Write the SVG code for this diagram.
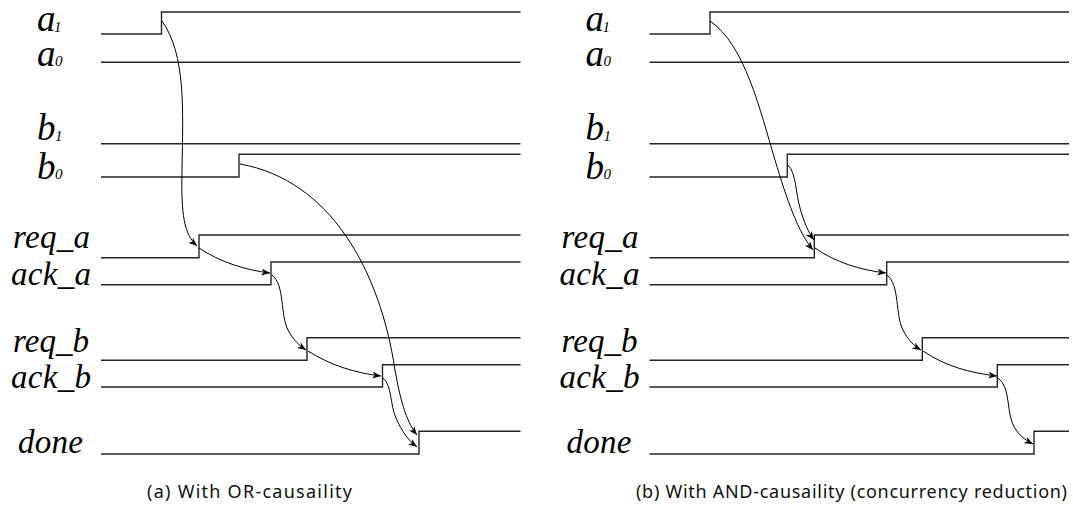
<svg xmlns="http://www.w3.org/2000/svg" width="1073" height="509" viewBox="0 0 1073 509">
  <style>
    .wave { fill: none; stroke: #262626; stroke-width: 1.4; }
    .arc { fill: none; stroke: #000; stroke-width: 1; marker-end: url(#stealth); }
    .big { font-family: "Liberation Serif", "DejaVu Serif", serif; font-style: italic; font-size: 37px; fill: #000; }
    .sub { font-family: "Liberation Serif", "DejaVu Serif", serif; font-style: italic; font-size: 15px; fill: #000; }
    .name { font-family: "Liberation Serif", "DejaVu Serif", serif; font-style: italic; font-size: 33px; fill: #000; }
    .cap { font-family: "Noto Sans", "Open Sans", sans-serif; font-size: 18px; fill: #111; }
  </style>
  <defs>
    <marker id="stealth" viewBox="0 0 10 8" refX="10" refY="4" markerWidth="9" markerHeight="7" markerUnits="userSpaceOnUse" orient="auto">
      <path d="M0,0 L10,4 L0,8 L3,4 z" fill="#000"/>
    </marker>
  </defs>

  <rect width="1073" height="509" fill="#fff"/>

  <!-- (a) OR-causality -->
  <g id="panel-a">
    <g id="a-a1"><text class="big" x="37" y="31">a</text><text class="sub" x="54" y="32">1</text>
      <path class="wave" d="M101,34 H161.5 V12 H520.5"/></g>
    <g id="a-a0"><text class="big" x="37" y="66">a</text><text class="sub" x="55" y="66">0</text>
      <path class="wave" d="M101,62.3 H520.5"/></g>
    <g id="a-b1"><text class="big" x="37" y="140">b</text><text class="sub" x="55" y="141">1</text>
      <path class="wave" d="M101,143.7 H520.5"/></g>
    <g id="a-b0"><text class="big" x="37" y="179">b</text><text class="sub" x="55" y="179">0</text>
      <path class="wave" d="M101,177 H239 V154.3 H520.5"/></g>
    <g id="a-req_a"><text class="name" x="13" y="248" textLength="77">req_a</text>
      <path class="wave" d="M101,257.7 H199 V235 H520.5"/></g>
    <g id="a-ack_a"><text class="name" x="11" y="285" textLength="80">ack_a</text>
      <path class="wave" d="M101,284.7 H271 V262 H520.5"/></g>
    <g id="a-req_b"><text class="name" x="13" y="352" textLength="76">req_b</text>
      <path class="wave" d="M101,360.3 H307 V337.7 H520.5"/></g>
    <g id="a-ack_b"><text class="name" x="11" y="388" textLength="80">ack_b</text>
      <path class="wave" d="M101,387 H382.5 V364.7 H520.5"/></g>
    <g id="a-done"><text class="name" x="18" y="453" textLength="65">done</text>
      <path class="wave" d="M101,454 H419 V431.3 H520.5"/></g>
    <g id="a-connectors">
      <path class="arc" d="M162,21 C186,55 183,110 182,170 C181,215 184,234 197,246"/>
      <path class="arc" d="M199,248 C220,262 245,270 270,273"/>
      <path class="arc" d="M272,275 C285,285 280,315 288,330 C293,340 300,346 306,350"/>
      <path class="arc" d="M308,351 C330,365 355,373 381,376"/>
      <path class="arc" d="M383,378 C392,385 390,405 396,418 C402,432 409,441 417,447"/>
      <path class="arc" d="M240,164 C330,180 380,270 395,370 C401,405 408,424 417,435"/>
    </g>
    <text class="cap" x="147" y="498" textLength="205">(a) With OR-causaility</text>
  </g>

  <!-- (b) AND-causality -->
  <g id="panel-b">
    <g id="b-a1"><text class="big" x="585.5" y="31">a</text><text class="sub" x="602.5" y="32">1</text>
      <path class="wave" d="M649.5,34 H710 V12 H1069"/></g>
    <g id="b-a0"><text class="big" x="585.5" y="66">a</text><text class="sub" x="603.5" y="66">0</text>
      <path class="wave" d="M649.5,62.3 H1069"/></g>
    <g id="b-b1"><text class="big" x="585.5" y="140">b</text><text class="sub" x="603.5" y="141">1</text>
      <path class="wave" d="M649.5,143.7 H1069"/></g>
    <g id="b-b0"><text class="big" x="585.5" y="179">b</text><text class="sub" x="603.5" y="179">0</text>
      <path class="wave" d="M649.5,177 H787.3 V154.3 H1069"/></g>
    <g id="b-req_a"><text class="name" x="561.5" y="248" textLength="77">req_a</text>
      <path class="wave" d="M649.5,257.7 H814.3 V235 H1069"/></g>
    <g id="b-ack_a"><text class="name" x="559.5" y="285" textLength="80">ack_a</text>
      <path class="wave" d="M649.5,284.7 H886.7 V262 H1069"/></g>
    <g id="b-req_b"><text class="name" x="561.5" y="352" textLength="76">req_b</text>
      <path class="wave" d="M649.5,360.3 H922.3 V337.7 H1069"/></g>
    <g id="b-ack_b"><text class="name" x="559.5" y="388" textLength="80">ack_b</text>
      <path class="wave" d="M649.5,387 H997.3 V364.7 H1069"/></g>
    <g id="b-done"><text class="name" x="566.5" y="453" textLength="65">done</text>
      <path class="wave" d="M649.5,454 H1034 V431.3 H1069"/></g>
    <g id="b-connectors">
      <path class="arc" d="M710,21 C745,45 760,110 775,160 C787,200 798,232 813,250"/>
      <path class="arc" d="M788,165 C796,172 796,195 800,208 C804,222 808,232 814,240"/>
      <path class="arc" d="M815,248 C835,262 860,270 886,273"/>
      <path class="arc" d="M887,275 C900,285 895,315 903,330 C908,340 914,346 921,350"/>
      <path class="arc" d="M923,351 C945,366 970,373 997,376"/>
      <path class="arc" d="M998,378 C1012,388 1005,415 1016,430 C1021,437 1027,441 1033,444"/>
    </g>
    <text class="cap" x="636" y="498" textLength="431">(b) With AND-causaility (concurrency reduction)</text>
  </g>
</svg>
